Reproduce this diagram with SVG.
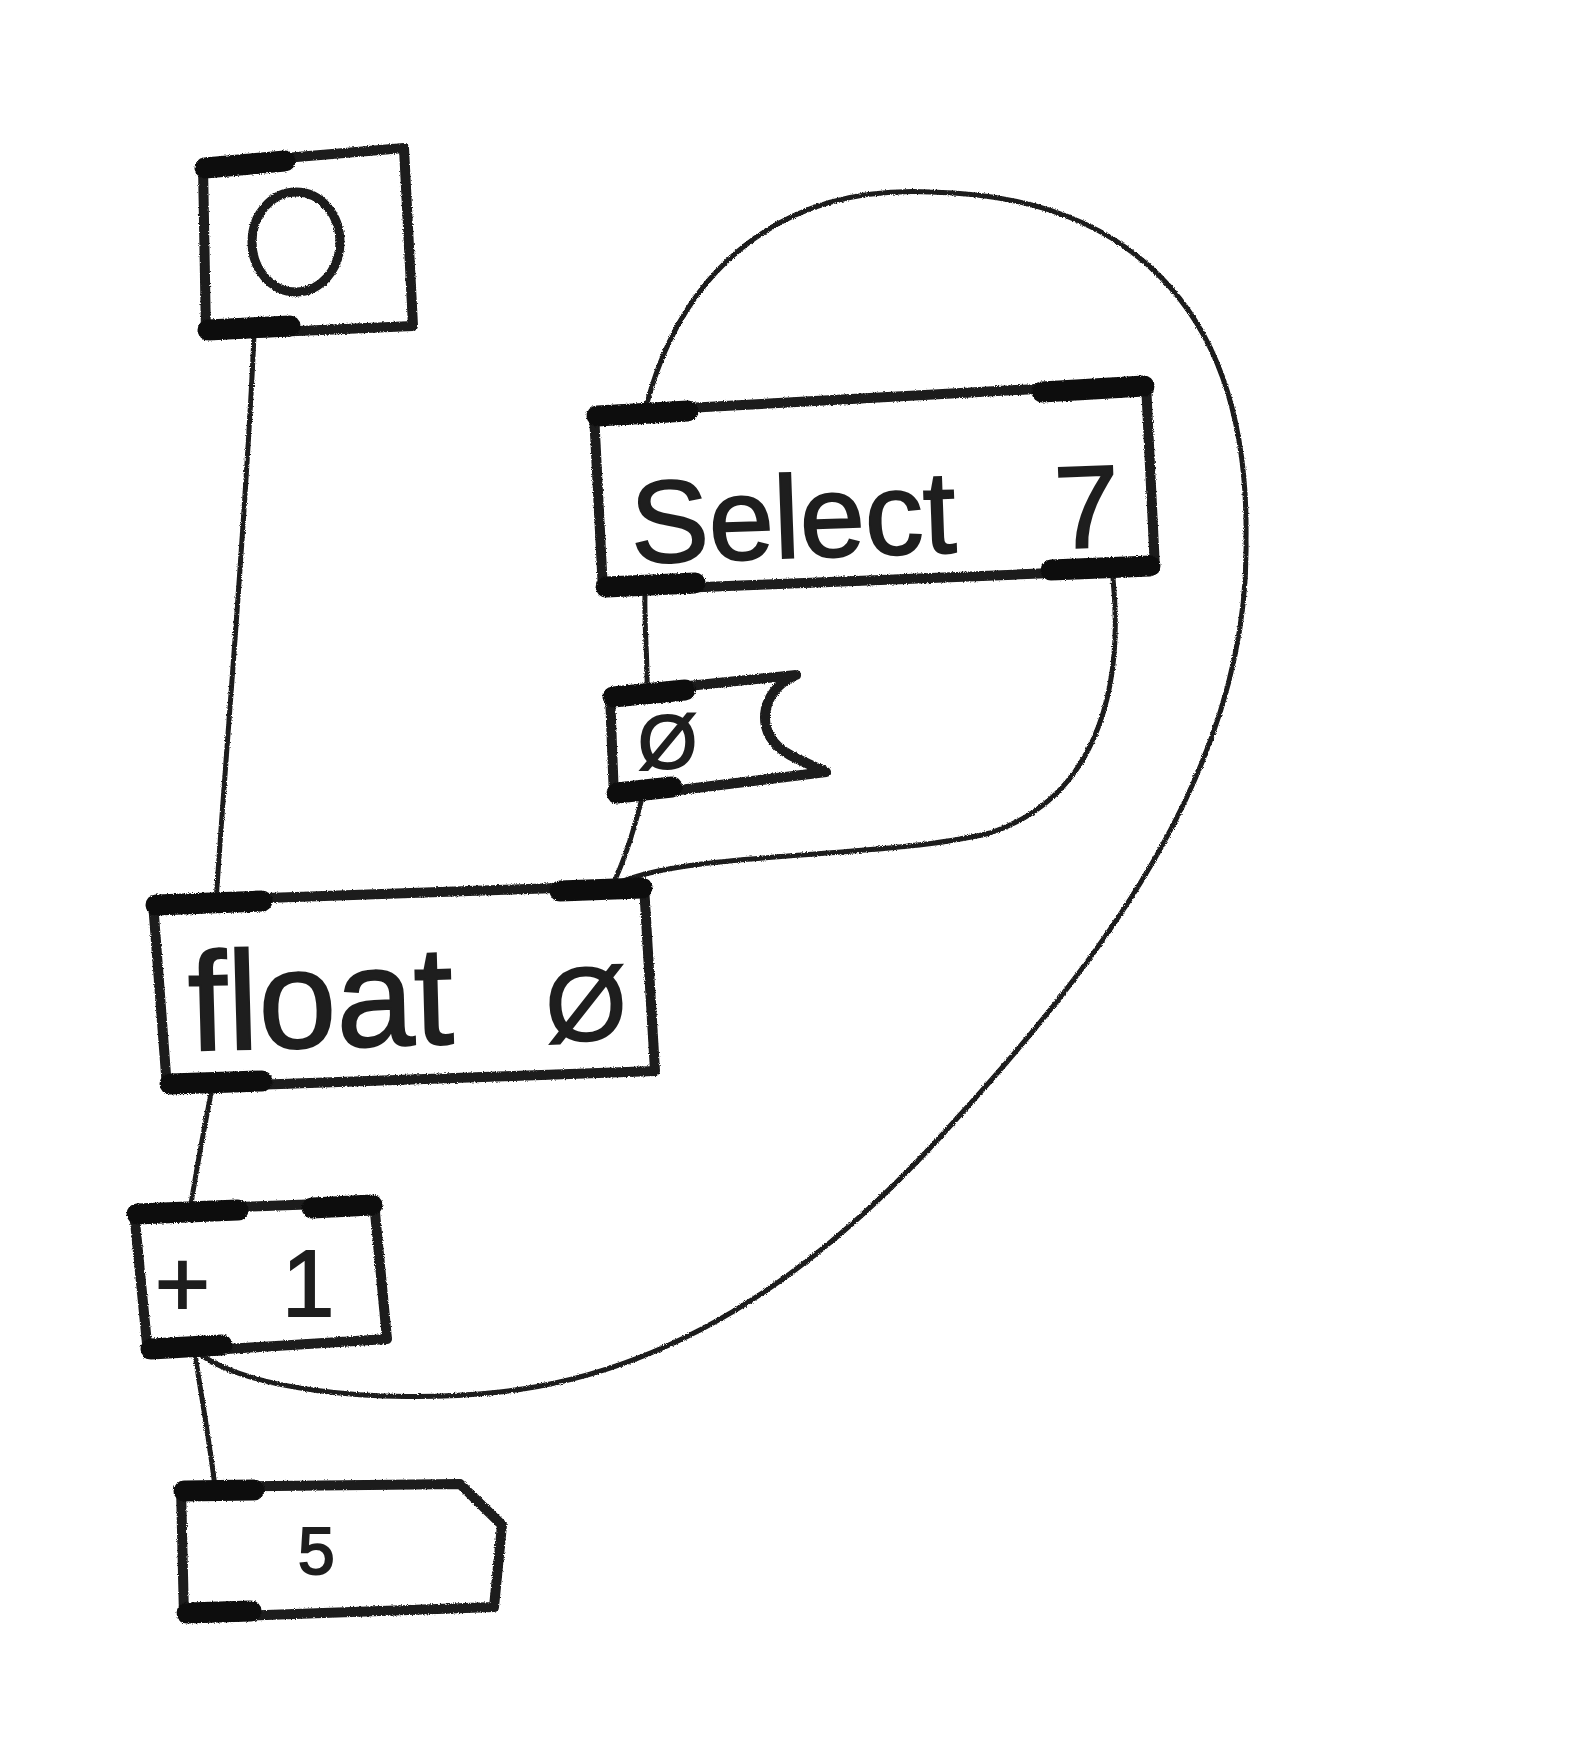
<svg xmlns="http://www.w3.org/2000/svg" width="1589" height="1750" viewBox="0 0 1589 1750">
<style>
.box{fill:none;stroke:#1a1a1a;stroke-width:10;stroke-linejoin:round}
.port{stroke:#111;stroke-width:21;stroke-linecap:round}
.wire{fill:none;stroke:#1a1a1a;stroke-width:5;stroke-linecap:round}
.lbl{font-family:"Liberation Sans",Arial,sans-serif;fill:#1e1e1e;stroke:#1e1e1e;stroke-width:2}
</style>
<defs>
<filter id="pencil" x="-5%" y="-5%" width="110%" height="110%">
<feTurbulence type="fractalNoise" baseFrequency="0.9" numOctaves="2" seed="3" result="n"/>
<feDisplacementMap in="SourceGraphic" in2="n" scale="3" xChannelSelector="R" yChannelSelector="G"/>
</filter>
</defs>
<rect width="1589" height="1750" fill="#fff"/>
<g id="connectors" filter="url(#pencil)">
<path class="wire" d="M254,335 C246,520 228,720 216,902"/>
<path class="wire" d="M190,1345 C230,1390 380,1405 500,1392 C700,1370 850,1240 960,1115 C1110,950 1250,760 1246,540 C1250,300 1120,195 930,192 C780,185 680,270 645,411"/>
<path class="wire" d="M645,592 C644,630 648,660 647,694"/>
<path class="wire" d="M642,798 C634,830 625,860 612,886"/>
<path class="wire" d="M1113,578 C1125,700 1090,800 990,833 C880,860 680,850 612,886"/>
<path class="wire" d="M212,1088 C204,1130 196,1170 190,1211"/>
<path class="wire" d="M195,1354 C202,1400 210,1445 215,1487"/>
</g>
<g id="bang" filter="url(#pencil)">
<polygon class="box" points="203,165 404,148 413,326 206,335"/>
<line class="port" x1="205" y1="168" x2="285" y2="161"/>
<line class="port" x1="208" y1="330" x2="290" y2="326"/>
<ellipse cx="296" cy="242" rx="44" ry="50" fill="none" stroke="#1a1a1a" stroke-width="9"/>
</g>
<g id="select">
<g filter="url(#pencil)">
<polygon class="box" points="594,413 1146,383 1155,569 603,591"/>
<line class="port" x1="597" y1="416" x2="688" y2="411"/>
<line class="port" x1="1042" y1="392" x2="1144" y2="386"/>
<line class="port" x1="606" y1="587" x2="695" y2="583"/>
<line class="port" x1="1051" y1="570" x2="1150" y2="566"/>
</g>
<text class="lbl" x="630" y="555" font-size="117" transform="rotate(-2 870 500)">Select <tspan x="1054">7</tspan></text>
</g>
<g id="msg">
<g filter="url(#pencil)">
<path class="box" d="M610,694 L796,675 C760,690 752,735 790,755 C805,763 818,768 826,772 L614,798 Z"/>
<line class="port" x1="613" y1="697" x2="685" y2="690"/>
<line class="port" x1="617" y1="793" x2="672" y2="787"/>
</g>
<text class="lbl" x="638" y="768" font-size="76">Ø</text>
</g>
<g id="float">
<g filter="url(#pencil)">
<polygon class="box" points="153,902 644,885 655,1071 167,1088"/>
<line class="port" x1="156" y1="905" x2="262" y2="901"/>
<line class="port" x1="560" y1="891" x2="642" y2="888"/>
<line class="port" x1="170" y1="1084" x2="262" y2="1081"/>
</g>
<text class="lbl" x="188" y="1045" font-size="140" transform="rotate(-1.5 400 990)">float <tspan x="545" font-size="104">Ø</tspan></text>
</g>
<g id="plus">
<g filter="url(#pencil)">
<polygon class="box" points="134,1211 374,1202 387,1339 148,1354"/>
<line class="port" x1="137" y1="1214" x2="238" y2="1210"/>
<line class="port" x1="312" y1="1208" x2="372" y2="1205"/>
<line class="port" x1="151" y1="1349" x2="222" y2="1345"/>
</g>
<text class="lbl" x="155" y="1316" font-size="94">+ <tspan x="282">1</tspan></text>
</g>
<g id="number">
<g filter="url(#pencil)">
<polygon class="box" points="181,1487 460,1484 502,1525 494,1607 184,1618"/>
<line class="port" x1="184" y1="1491" x2="254" y2="1490"/>
<line class="port" x1="187" y1="1613" x2="251" y2="1611"/>
</g>
<text class="lbl" x="298" y="1574" font-size="66">5</text>
</g>
</svg>
